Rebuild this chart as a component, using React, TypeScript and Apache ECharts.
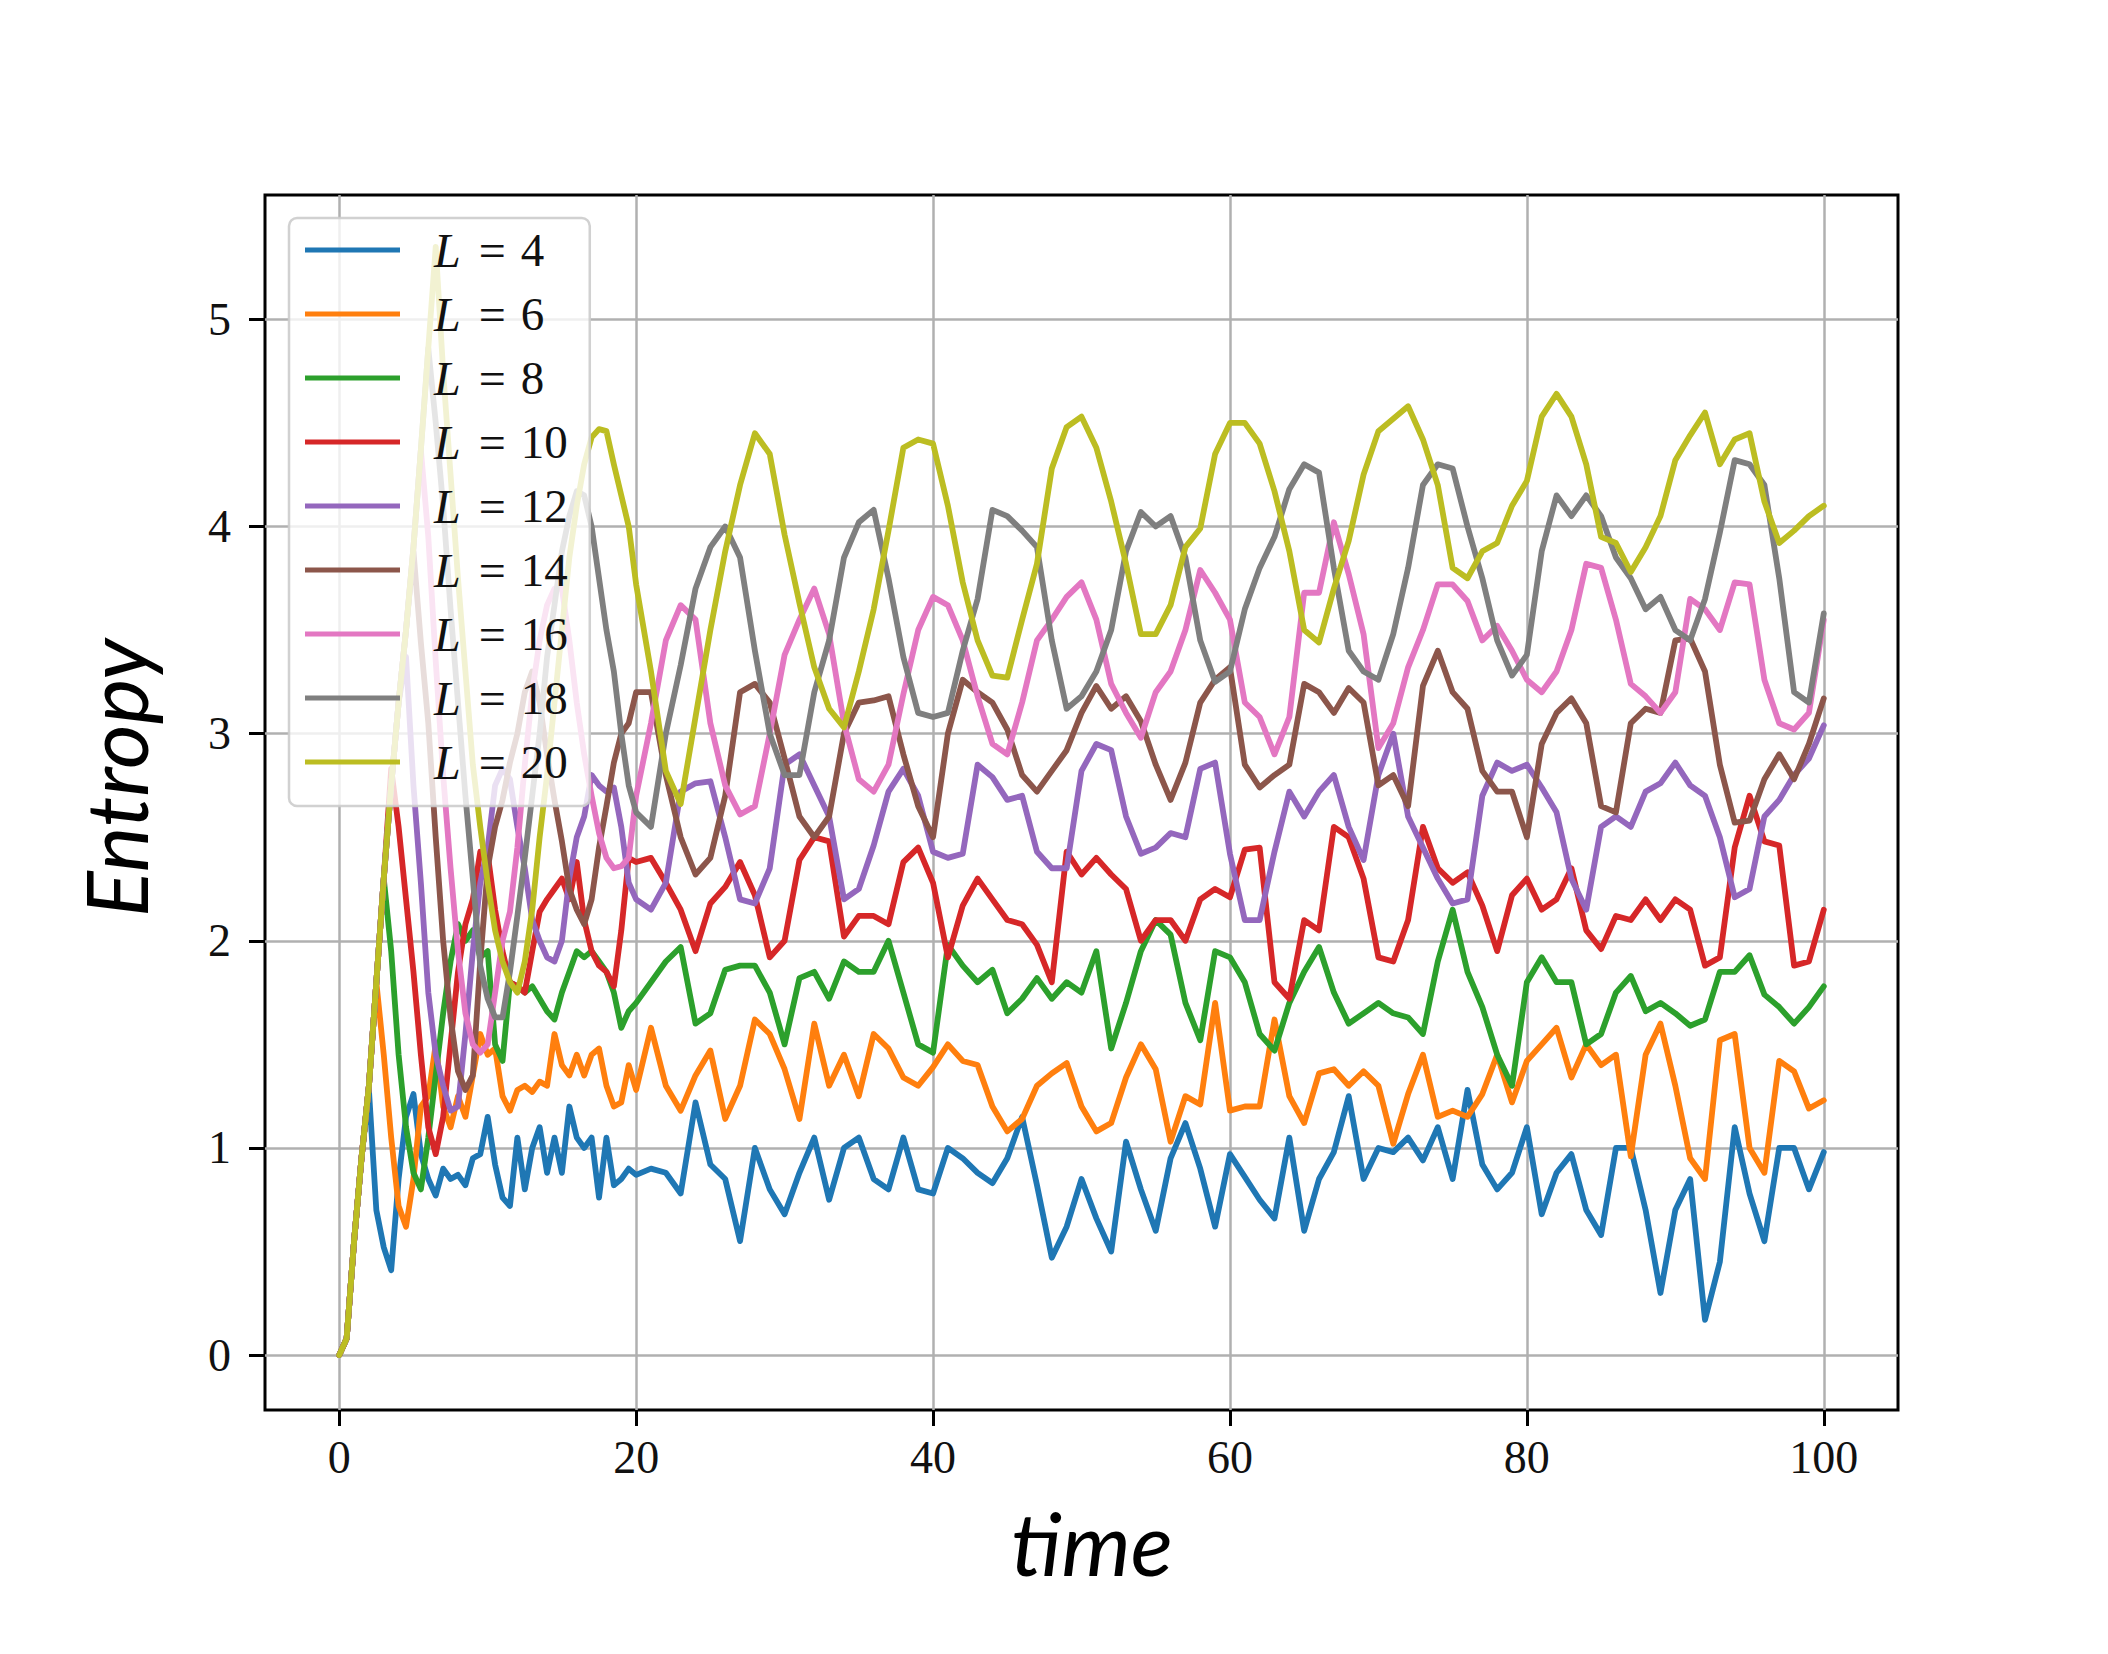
import React, { useEffect, useRef } from "react";
import * as echarts from "echarts";

// sampling grid of the simulation: 0..20 every 0.5, then 21..100 every 1
const TIME: number[] = [];
for (let i = 0; i <= 40; i++) TIME.push(i * 0.5);
for (let t = 21; t <= 100; t++) TIME.push(t);

const L4 = [
  0, 0.08, 0.55, 0.95, 1.28, 0.7, 0.52, 0.41, 0.85, 1.15, 1.26, 0.97, 0.85, 0.77, 0.9, 0.85, 0.87, 0.82, 0.95, 0.97,
  1.15, 0.92, 0.76, 0.72, 1.05, 0.8, 1.0, 1.1, 0.88, 1.05, 0.88, 1.2, 1.05, 1.0, 1.05, 0.76, 1.05, 0.82, 0.85, 0.9, 0.87,
  0.9, 0.88, 0.78, 1.22, 0.92, 0.85, 0.55, 1.0, 0.8, 0.68, 0.88, 1.05, 0.75, 1.0, 1.05, 0.85, 0.8, 1.05, 0.8, 0.78,
  1.0, 0.95, 0.88, 0.83, 0.95, 1.15, 0.82, 0.47, 0.62, 0.85, 0.66, 0.5, 1.03, 0.8, 0.6, 0.95, 1.12, 0.9, 0.62, 0.97,
  0.86, 0.75, 0.66, 1.05, 0.6, 0.85, 0.98, 1.25, 0.85, 1.0, 0.98, 1.05, 0.94, 1.1, 0.85, 1.28, 0.92, 0.8, 0.88, 1.1,
  0.68, 0.88, 0.97, 0.7, 0.58, 1.0, 1.0, 0.7, 0.3, 0.7, 0.85, 0.17, 0.45, 1.1, 0.78, 0.55, 1.0, 1.0, 0.8, 0.98,
];
const L6 = [
  0, 0.08, 0.55, 0.95, 1.3, 1.8, 1.45, 1.05, 0.72, 0.62, 0.85, 1.2, 1.25, 1.5, 1.2, 1.1, 1.25, 1.15, 1.35, 1.55,
  1.45, 1.48, 1.25, 1.18, 1.28, 1.3, 1.27, 1.32, 1.3, 1.55, 1.4, 1.35, 1.45, 1.35, 1.45, 1.48, 1.3, 1.2, 1.22, 1.4, 1.28,
  1.58, 1.3, 1.18, 1.35, 1.47, 1.14, 1.3, 1.62, 1.55, 1.38, 1.14, 1.6, 1.3, 1.45, 1.25, 1.55, 1.48, 1.34, 1.3, 1.39,
  1.5, 1.42, 1.4, 1.2, 1.08, 1.14, 1.3, 1.36, 1.41, 1.2, 1.08, 1.12, 1.34, 1.5, 1.38, 1.03, 1.25, 1.21, 1.7, 1.18,
  1.2, 1.2, 1.62, 1.25, 1.12, 1.36, 1.38, 1.3, 1.37, 1.3, 1.02, 1.26, 1.45, 1.15, 1.18, 1.15, 1.26, 1.45, 1.22, 1.42,
  1.5, 1.58, 1.34, 1.5, 1.4, 1.45, 0.96, 1.45, 1.6, 1.3, 0.95, 0.85, 1.52, 1.55, 1.0, 0.88, 1.42, 1.37, 1.19, 1.23,
];
const L8 = [
  0, 0.08, 0.55, 0.95, 1.3, 1.8, 2.3, 1.95, 1.45, 1.1, 0.88, 0.8, 1.05, 1.35, 1.65, 1.9, 2.08, 2.0, 2.05, 1.92,
  1.95, 1.5, 1.42, 1.8, 1.78, 1.75, 1.78, 1.72, 1.66, 1.62, 1.75, 1.85, 1.95, 1.92, 1.95, 1.9, 1.85, 1.75, 1.58, 1.66, 1.7,
  1.8, 1.9, 1.97, 1.6, 1.65, 1.86, 1.88, 1.88, 1.75, 1.5, 1.82, 1.85, 1.72, 1.9, 1.85, 1.85, 2.0, 1.75, 1.5, 1.46,
  1.98, 1.88, 1.8, 1.86, 1.65, 1.72, 1.82, 1.72, 1.8, 1.75, 1.95, 1.48, 1.7, 1.95, 2.1, 2.03, 1.7, 1.52, 1.95, 1.92,
  1.8, 1.55, 1.47, 1.7, 1.85, 1.97, 1.75, 1.6, 1.65, 1.7, 1.65, 1.63, 1.55, 1.9, 2.15, 1.85, 1.68, 1.45, 1.3, 1.8,
  1.92, 1.8, 1.8, 1.5, 1.55, 1.75, 1.83, 1.66, 1.7, 1.65, 1.59, 1.62, 1.85, 1.85, 1.93, 1.74, 1.68, 1.6, 1.68, 1.78,
];
const L10 = [
  0, 0.08, 0.55, 0.95, 1.3, 1.8, 2.3, 2.83, 2.55, 2.2, 1.85, 1.45, 1.1, 0.97, 1.15, 1.5, 1.85, 2.08, 2.2, 2.43,
  2.42, 2.15, 1.95, 1.8, 1.78, 1.75, 1.95, 2.14, 2.2, 2.25, 2.3, 2.2, 2.38, 2.1, 1.95, 1.88, 1.85, 1.78, 2.05, 2.4, 2.38,
  2.4, 2.28, 2.15, 1.95, 2.18, 2.26, 2.38, 2.22, 1.92, 2.0, 2.39, 2.5, 2.48, 2.02, 2.12, 2.12, 2.08, 2.38, 2.45, 2.28,
  1.92, 2.17, 2.3, 2.2, 2.1, 2.08, 1.98, 1.8, 2.43, 2.32, 2.4, 2.32, 2.25, 2.0, 2.1, 2.1, 2.0, 2.2, 2.25, 2.21,
  2.44, 2.45, 1.8, 1.72, 2.1, 2.05, 2.55, 2.5, 2.3, 1.92, 1.9, 2.1, 2.55, 2.35, 2.28, 2.33, 2.17, 1.95, 2.22, 2.3,
  2.15, 2.2, 2.35, 2.05, 1.96, 2.12, 2.1, 2.2, 2.1, 2.2, 2.15, 1.88, 1.92, 2.45, 2.7, 2.48, 2.46, 1.88, 1.9, 2.15,
];
const L12 = [
  0, 0.08, 0.55, 0.95, 1.3, 1.8, 2.3, 2.75, 3.15, 3.37, 2.75, 2.28, 1.75, 1.45, 1.3, 1.18, 1.2, 1.55, 1.95, 2.28,
  2.45, 2.75, 2.83, 2.78, 2.55, 2.35, 2.1, 2.0, 1.92, 1.9, 2.0, 2.3, 2.5, 2.6, 2.8, 2.75, 2.72, 2.74, 2.55, 2.28, 2.2,
  2.15, 2.28, 2.72, 2.76, 2.77, 2.5, 2.2, 2.18, 2.35, 2.85, 2.9, 2.75, 2.6, 2.2, 2.25, 2.46, 2.72, 2.83, 2.7, 2.43,
  2.4, 2.42, 2.85, 2.79, 2.68, 2.7, 2.43, 2.35, 2.35, 2.82, 2.95, 2.92, 2.6, 2.42, 2.45, 2.52, 2.5, 2.83, 2.86, 2.42,
  2.1, 2.1, 2.43, 2.72, 2.6, 2.72, 2.8, 2.55, 2.39, 2.8, 3.0, 2.6, 2.45, 2.3, 2.18, 2.2, 2.7, 2.86, 2.82, 2.85,
  2.74, 2.62, 2.3, 2.15, 2.55, 2.6, 2.55, 2.72, 2.76, 2.86, 2.75, 2.7, 2.5, 2.21, 2.25, 2.6, 2.68, 2.8, 2.88, 3.04,
];
const L14 = [
  0, 0.08, 0.55, 0.95, 1.3, 1.8, 2.3, 2.75, 3.15, 3.5, 3.88, 3.44, 3.05, 2.5, 2.0, 1.63, 1.37, 1.28, 1.35, 1.9,
  2.35, 2.55, 2.68, 2.86, 3.0, 3.2, 3.3, 3.15, 2.9, 2.68, 2.48, 2.25, 2.15, 2.08, 2.2, 2.45, 2.65, 2.86, 3.0, 3.05, 3.2,
  3.2, 2.8, 2.5, 2.32, 2.4, 2.7, 3.2, 3.24, 3.15, 2.88, 2.6, 2.5, 2.6, 3.0, 3.15, 3.16, 3.18, 2.9, 2.65, 2.5,
  3.0, 3.26, 3.2, 3.15, 3.02, 2.8, 2.72, 2.82, 2.92, 3.1, 3.23, 3.12, 3.18, 3.06, 2.85, 2.68, 2.86, 3.15, 3.26, 3.32,
  2.85, 2.74, 2.8, 2.85, 3.24, 3.2, 3.1, 3.22, 3.15, 2.75, 2.8, 2.65, 3.23, 3.4, 3.2, 3.12, 2.82, 2.72, 2.72, 2.5,
  2.95, 3.1, 3.17, 3.05, 2.65, 2.62, 3.05, 3.12, 3.1, 3.45, 3.46, 3.3, 2.85, 2.57, 2.58, 2.78, 2.9, 2.78, 2.95, 3.17,
];
const L16 = [
  0, 0.08, 0.55, 0.95, 1.3, 1.8, 2.3, 2.75, 3.15, 3.5, 3.9, 4.37, 3.95, 3.35, 2.8, 2.35, 1.95, 1.65, 1.5, 1.46,
  1.5, 1.75, 2.0, 2.14, 2.45, 2.85, 3.2, 3.45, 3.62, 3.7, 3.7, 3.45, 3.15, 2.9, 2.7, 2.52, 2.4, 2.35, 2.36, 2.4, 2.7,
  3.05, 3.45, 3.62, 3.55, 3.05, 2.75, 2.61, 2.65, 3.0, 3.38, 3.55, 3.7, 3.48, 3.05, 2.78, 2.72, 2.85, 3.19, 3.5, 3.66,
  3.62, 3.45, 3.18, 2.95, 2.9, 3.15, 3.45, 3.55, 3.66, 3.73, 3.55, 3.24, 3.1, 2.98, 3.2, 3.3, 3.5, 3.79, 3.68, 3.55,
  3.15, 3.08, 2.9, 3.08, 3.68, 3.68, 4.02, 3.77, 3.48, 2.93, 3.05, 3.32, 3.5, 3.72, 3.72, 3.64, 3.45, 3.52, 3.4, 3.26,
  3.2, 3.3, 3.5, 3.82, 3.8, 3.55, 3.24, 3.18, 3.1, 3.2, 3.65, 3.6, 3.5, 3.73, 3.72, 3.26, 3.05, 3.02, 3.1, 3.55,
];
const L18 = [
  0, 0.08, 0.55, 0.95, 1.3, 1.8, 2.3, 2.75, 3.15, 3.5, 3.9, 4.37, 4.86, 4.5, 4.1, 3.6, 3.15, 2.7, 2.3, 1.88,
  1.72, 1.63, 1.63, 1.85, 2.12, 2.4, 2.7, 3.0, 3.37, 3.62, 3.88, 4.05, 4.17, 4.15, 4.0, 3.75, 3.5, 3.3, 3.0, 2.75, 2.62,
  2.55, 3.0, 3.33, 3.7, 3.9, 4.0, 3.85, 3.4, 3.0, 2.8, 2.8, 3.2, 3.45, 3.85, 4.02, 4.08, 3.75, 3.37, 3.1, 3.08,
  3.1, 3.4, 3.65, 4.08, 4.05, 3.98, 3.9, 3.45, 3.12, 3.18, 3.3, 3.5, 3.88, 4.07, 4.0, 4.05, 3.85, 3.45, 3.25, 3.3,
  3.6, 3.8, 3.95, 4.18, 4.3, 4.26, 3.8, 3.4, 3.3, 3.26, 3.48, 3.8, 4.2, 4.3, 4.28, 4.0, 3.75, 3.45, 3.28, 3.38,
  3.88, 4.15, 4.05, 4.15, 4.05, 3.85, 3.75, 3.6, 3.66, 3.5, 3.45, 3.65, 3.97, 4.32, 4.3, 4.2, 3.75, 3.2, 3.15, 3.58,
];
const L20 = [
  0, 0.08, 0.55, 0.95, 1.3, 1.8, 2.3, 2.75, 3.15, 3.5, 3.9, 4.37, 4.86, 5.35, 4.75, 4.25, 3.75, 3.3, 2.85, 2.55,
  2.28, 2.05, 1.9, 1.8, 1.75, 1.9, 2.15, 2.5, 2.8, 3.15, 3.5, 3.85, 4.1, 4.3, 4.43, 4.47, 4.46, 4.3, 4.15, 4.0, 3.72,
  3.3, 2.82, 2.66, 3.08, 3.5, 3.88, 4.2, 4.45, 4.35, 3.96, 3.63, 3.32, 3.12, 3.03, 3.3, 3.6, 3.98, 4.38, 4.42, 4.4,
  4.1, 3.73, 3.45, 3.28, 3.27, 3.55, 3.82, 4.28, 4.48, 4.53, 4.38, 4.12, 3.82, 3.48, 3.48, 3.62, 3.9, 3.99, 4.35, 4.5,
  4.5, 4.4, 4.17, 3.88, 3.5, 3.44, 3.7, 3.93, 4.25, 4.46, 4.52, 4.58, 4.42, 4.2, 3.8, 3.75, 3.88, 3.92, 4.1, 4.22,
  4.53, 4.64, 4.53, 4.3, 3.95, 3.92, 3.78, 3.9, 4.05, 4.32, 4.44, 4.55, 4.3, 4.42, 4.45, 4.12, 3.92, 3.98, 4.05, 4.1,
];

const SERIES_NAMES = ["L = 4", "L = 6", "L = 8", "L = 10", "L = 12", "L = 14", "L = 16", "L = 18", "L = 20"];
const SERIES_VALUES = [L4, L6, L8, L10, L12, L14, L16, L18, L20];
const COLORS = ["#1f77b4", "#ff7f0e", "#2ca02c", "#d62728", "#9467bd", "#8c564b", "#e377c2", "#7f7f7f", "#bcbd22"];
const X_TICKS = [0, 20, 40, 60, 80, 100];
const Y_TICKS = [0, 1, 2, 3, 4, 5];
const X_TITLE = "time";
const Y_TITLE = "Entropy";

const SERIF = "'Liberation Serif', 'DejaVu Serif', serif";
const SANS = "Lato, 'Open Sans', 'Noto Sans', sans-serif";

export default function App() {
  const ref = useRef<HTMLDivElement>(null);

  useEffect(() => {
    if (!ref.current) return;
    const chart = echarts.init(ref.current, null, { renderer: "svg" });

    const series = SERIES_NAMES.map((name, k) => ({
      name,
      type: "line",
      data: TIME.map((t, i) => [t, SERIES_VALUES[k][i]]),
      showSymbol: false,
      symbol: "none",
      smooth: false,
      lineStyle: { width: 5.8, color: COLORS[k], join: "round", cap: "round" },
      itemStyle: { color: COLORS[k] },
      emphasis: { disabled: true },
      z: 2,
    }));

    chart.setOption({
      animation: false,
      backgroundColor: "#ffffff",
      grid: {
        left: 265,
        top: 195,
        width: 1633,
        height: 1215,
        show: true,
        borderColor: "#000000",
        borderWidth: 3,
        backgroundColor: "transparent",
      },
      xAxis: {
        type: "value",
        min: -5,
        max: 105,
        axisLine: { show: false, onZero: false },
        axisTick: {
          show: true,
          customValues: X_TICKS,
          length: 16,
          lineStyle: { color: "#000", width: 3 },
        },
        axisLabel: {
          customValues: X_TICKS,
          margin: 24,
          fontFamily: SERIF,
          fontSize: 46,
          color: "#111",
        },
        splitLine: { show: true, lineStyle: { color: "#b0b0b0", width: 2.5 } },
      },
      yAxis: {
        type: "value",
        min: -0.265,
        max: 5.6,
        axisLine: { show: false, onZero: false },
        axisTick: {
          show: true,
          customValues: Y_TICKS,
          length: 16,
          lineStyle: { color: "#000", width: 3 },
        },
        axisLabel: {
          customValues: Y_TICKS,
          margin: 34,
          fontFamily: SERIF,
          fontSize: 46,
          color: "#111",
        },
        splitLine: { show: true, lineStyle: { color: "#b0b0b0", width: 2.5 } },
      },
      legend: {
        data: SERIES_NAMES,
        orient: "vertical",
        left: 289,
        top: 218,
        icon: "rect",
        itemWidth: 95,
        itemHeight: 5,
        itemGap: 16,
        padding: [8, 22, 20, 16],
        backgroundColor: "rgba(255,255,255,0.8)",
        borderColor: "rgba(204,204,204,0.9)",
        borderWidth: 2.5,
        borderRadius: 8,
        selectedMode: false,
        formatter: (name: string) => {
          const n = name.split("= ")[1];
          return `{i|L}{e|=}{n|${n}}`;
        },
        textStyle: {
          color: "#111",
          fontFamily: SERIF,
          fontSize: 46,
          lineHeight: 44,
          rich: {
            i: { fontStyle: "italic", fontFamily: SERIF, fontSize: 48, lineHeight: 44, padding: [0, 0, 0, 29], color: "#111" },
            e: { fontFamily: SERIF, fontSize: 48, lineHeight: 44, padding: [0, 15, 0, 18], color: "#111" },
            n: { fontFamily: SERIF, fontSize: 47, lineHeight: 44, color: "#111" },
          },
        },
      },
      graphic: [
        {
          type: "text",
          x: 1092,
          y: 1542,
          style: {
            text: X_TITLE,
            fontFamily: SANS,
            fontStyle: "italic",
            fontSize: 88,
            fill: "#000",
            align: "center",
            verticalAlign: "middle",
            textAlign: "center",
            textVerticalAlign: "middle",
          },
        },
        {
          type: "text",
          x: 114,
          y: 778,
          rotation: Math.PI / 2,
          style: {
            text: Y_TITLE,
            fontFamily: SANS,
            fontStyle: "italic",
            fontSize: 86,
            fill: "#000",
            align: "center",
            verticalAlign: "middle",
            textAlign: "center",
            textVerticalAlign: "middle",
          },
        },
      ],
      series,
    });

    return () => chart.dispose();
  }, []);

  return (
    <div
      ref={ref}
      style={{ position: "absolute", left: 0, top: 0, width: 2108, height: 1654, background: "#fff" }}
    />
  );
}
